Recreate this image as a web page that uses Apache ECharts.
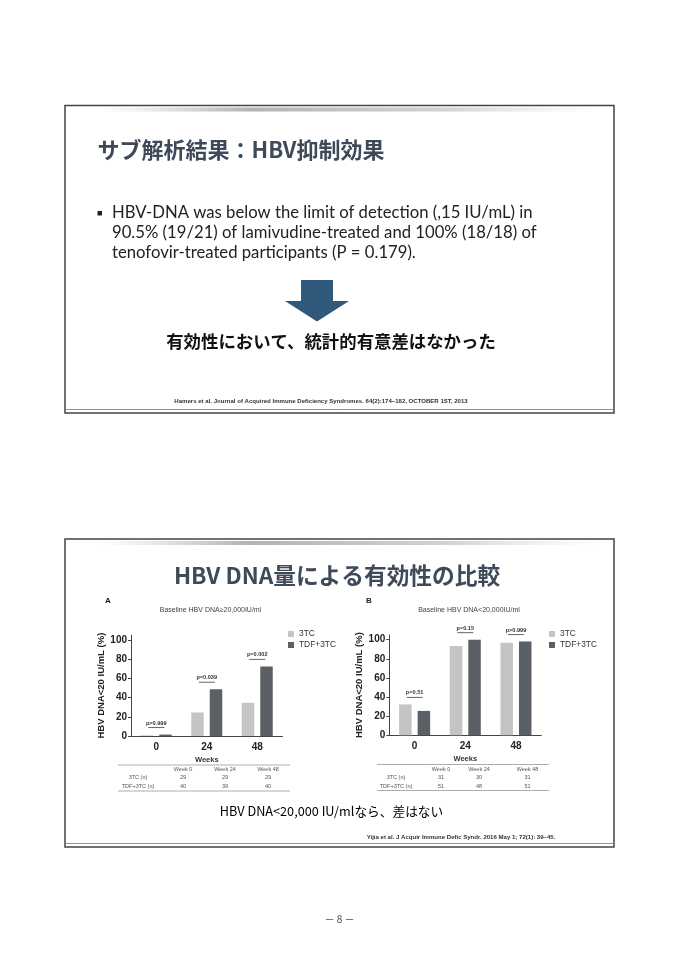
<!DOCTYPE html>
<html>
<head>
<meta charset="utf-8">
<script src="https://cdn.jsdelivr.net/npm/echarts@6/dist/echarts.min.js"></script>
<style>
  html, body { margin: 0; padding: 0; background: #fff; }
  #main { width: 679px; height: 960px; }
</style>
</head>
<body>
<div id="main"></div>
<script>
// data
const weeks = ['0', '24', '48'];
const yTicks = [0, 20, 40, 60, 80, 100];
const a3tc = [0.7, 24.5, 34.5];
const aTdf = [1.5, 48.7, 72.5];
const b3tc = [32.3, 93.3, 96.8];
const bTdf = [25.5, 100, 98];
const pA = ['p>0.999', 'p=0.039', 'p=0.002'];
const pB = ['p=0.51', 'p=0.15', 'p>0.999'];
const tableHead = ['Week 0', 'Week 24', 'Week 48'];
const rowLabels = ['3TC (n)', 'TDF+3TC (n)'];
const nA3tc = [29, 29, 29];
const nATdf = [40, 39, 40];
const nB3tc = [31, 30, 31];
const nBTdf = [51, 48, 51];
const bulletLines = [
  'HBV-DNA was below the limit of detection (,15 IU/mL) in',
  '90.5% (19/21) of lamivudine-treated and 100% (18/18) of',
  'tenofovir-treated participants (P = 0.179).',
];

const LAT = 'Liberation Sans';
const JP = '"Noto Sans CJK JP"';
const light = '#c4c4c4';
const dark = '#5b5f66';
const titleColor = '#3e4a5a';

const text = (x, y, str, font, fill, align) => ({
  type: 'text', x, y, silent: true,
  style: { text: str, font, fill: fill || '#222', align: align || 'center', verticalAlign: 'middle' },
});
const line = (x1, y1, x2, y2, stroke, w) => ({
  type: 'line', silent: true,
  shape: { x1, y1, x2, y2 },
  style: { stroke, lineWidth: w || 1 },
});

const slideFrame = (top, bottom) => [
  { type: 'rect', silent: true, shape: { x: 65, y: top, width: 549, height: bottom - top },
    style: { fill: '#fff', stroke: '#444', lineWidth: 1.5 } },
  { type: 'rect', silent: true, shape: { x: 100, y: top + 2, width: 500, height: 4 },
    style: { fill: new echarts.graphic.LinearGradient(0, 0, 1, 0, [
      { offset: 0, color: 'rgba(190,190,190,0)' },
      { offset: 0.3, color: 'rgba(170,170,170,0.9)' },
      { offset: 0.7, color: 'rgba(200,200,200,0.8)' },
      { offset: 1, color: 'rgba(220,220,220,0)' },
    ]) } },
  line(66, bottom - 3.5, 613, bottom - 3.5, '#7f97b8', 1),
];

const table = (x0, x1, top, cols, labelX, rows) => {
  const out = [line(x0, top, x1, top, '#999', 0.8), line(x0, top + 26, x1, top + 26, '#999', 0.8)];
  const f = '5.5px ' + LAT;
  tableHead.forEach((h, i) => out.push(text(cols[i], top + 4.5, h, f, '#555')));
  rows.forEach((vals, r) => {
    const y = top + 12.5 + r * 9;
    out.push(text(labelX, y, rowLabels[r], f, '#555'));
    vals.forEach((v, i) => out.push(text(cols[i], y, String(v), f, '#555')));
  });
  return out;
};

const elements = [
  ...slideFrame(105.5, 413),
  text(97.5, 150, 'サブ解析結果：HBV抑制効果', 'bold 22px ' + JP, titleColor, 'left'),
  { type: 'rect', silent: true, shape: { x: 97.5, y: 211, width: 4.5, height: 4.5 }, style: { fill: '#222' } },
  ...bulletLines.map((s, i) => text(112, 213 + i * 20, s, '16.7px Lato', '#222', 'left')),
  { type: 'polygon', silent: true,
    shape: { points: [[301, 280], [333, 280], [333, 301], [349, 301], [317, 321.5], [285, 301], [301, 301]] },
    style: { fill: '#2f587b' } },
  text(331, 341.5, '有効性において、統計的有意差はなかった', 'bold 17.4px ' + JP, '#111'),
  text(321, 401.5, 'Hamers et al. Journal of Acquired Immune Deficiency Syndromes. 64(2):174–182, OCTOBER 1ST, 2013',
    'bold 6.05px ' + LAT, '#333'),

  ...slideFrame(539, 847),
  text(337, 575, 'HBV DNA量による有効性の比較', 'bold 22.7px ' + JP, titleColor),
  text(108, 601, 'A', 'bold 8px ' + LAT, '#222'),
  text(369, 601, 'B', 'bold 8px ' + LAT, '#222'),
  text(210.5, 610.5, 'Baseline HBV DNA≥20,000IU/ml', '7px ' + LAT, '#444'),
  text(469, 610.5, 'Baseline HBV DNA<20,000IU/ml', '7px ' + LAT, '#444'),
  ...table(118, 290, 765, [183, 225, 268], 138, [nA3tc, nATdf]),
  ...table(377, 549, 764.5, [441, 479, 527.5], 396, [nB3tc, nBTdf]),
  text(331.5, 811, 'HBV DNA<20,000 IU/mlなら、差はない', '12.7px ' + JP, '#000'),
  text(461, 837, 'Yijia et al. J Acquir Immune Defic Syndr. 2016 May 1; 72(1): 39–45.', 'bold 6.05px ' + LAT, '#333'),
  text(339.5, 919, '－ 8 －', '10px ' + JP, '#444'),
];

const pSeries = (idx, labels, v1, v2) => ({
  type: 'custom',
  name: 'p',
  xAxisIndex: idx,
  yAxisIndex: idx,
  silent: true,
  z: 5,
  data: weeks.map((w, i) => [i, Math.max(v1[i], v2[i])]),
  renderItem: (params, api) => {
    const pt = api.coord([api.value(0), api.value(1)]);
    const y = pt[1] - 7;
    return {
      type: 'group',
      children: [
        { type: 'line', shape: { x1: pt[0] - 8, y1: y, x2: pt[0] + 8, y2: y }, style: { stroke: '#666', lineWidth: 1 } },
        { type: 'text', style: { text: labels[params.dataIndex], x: pt[0], y: y - 1.5, align: 'center', verticalAlign: 'bottom',
          fontSize: 5.6, fontWeight: 'bold', fontFamily: LAT, fill: '#333' } },
      ],
    };
  },
});

const barSeries = (idx, name, data, color) => ({
  type: 'bar', name, xAxisIndex: idx, yAxisIndex: idx, data,
  barWidth: 12.5, barGap: '48%',
  itemStyle: { color },
});

const xAxisOf = (idx) => ({
  type: 'category', gridIndex: idx, data: weeks,
  axisLine: { show: true, lineStyle: { color: '#444', width: 1 } },
  axisTick: { show: false },
  axisLabel: { fontSize: 10, fontWeight: 'bold', color: '#222', margin: 6, fontFamily: LAT },
  name: 'Weeks', nameLocation: 'middle', nameGap: 20,
  nameTextStyle: { fontSize: 7.5, fontWeight: 'bold', color: '#333', fontFamily: LAT },
});

const yAxisOf = (idx) => ({
  type: 'value', gridIndex: idx, min: 0, max: 105, interval: 20,
  axisLine: { show: true, lineStyle: { color: '#444', width: 1 } },
  axisTick: { show: true, length: 3, customValues: yTicks, lineStyle: { color: '#444' } },
  axisLabel: { customValues: yTicks, fontSize: 10, fontWeight: 'bold', color: '#222', margin: 4, fontFamily: LAT },
  splitLine: { show: false },
  name: 'HBV DNA<20 IU/mL (%)', nameLocation: 'middle', nameGap: 23, nameRotate: 90,
  nameTextStyle: { fontSize: 9.5, fontWeight: 'bold', color: '#222', fontFamily: LAT },
});

const legendOf = (left) => ({
  data: ['3TC', 'TDF+3TC'], orient: 'vertical', left, top: 630, padding: 0,
  itemWidth: 6, itemHeight: 6, itemGap: 3, icon: 'rect', selectedMode: false,
  textStyle: { fontSize: 8.4, color: '#333', fontFamily: LAT },
});

const option = {
  animation: false,
  graphic: { elements },
  legend: [legendOf(288), legendOf(549)],
  grid: [
    { left: 131, top: 635.2, width: 151.5, height: 100.8 },
    { left: 389.3, top: 634.9, width: 152, height: 100.4 },
  ],
  xAxis: [xAxisOf(0), xAxisOf(1)],
  yAxis: [yAxisOf(0), yAxisOf(1)],
  series: [
    barSeries(0, '3TC', a3tc, light),
    barSeries(0, 'TDF+3TC', aTdf, dark),
    barSeries(1, '3TC', b3tc, light),
    barSeries(1, 'TDF+3TC', bTdf, dark),
    pSeries(0, pA, a3tc, aTdf),
    pSeries(1, pB, b3tc, bTdf),
  ],
};

const myChart = echarts.init(document.getElementById('main'));
myChart.setOption(option);
</script>
</body>
</html>
